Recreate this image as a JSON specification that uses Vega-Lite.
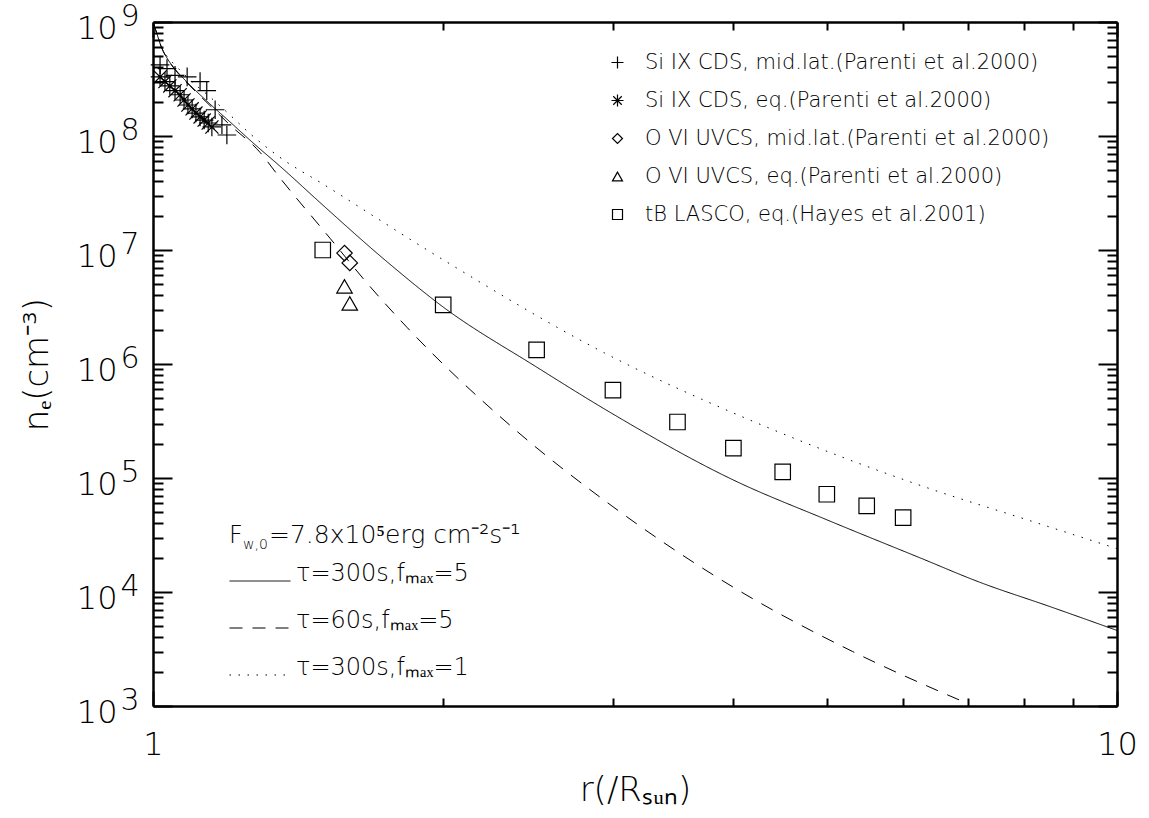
{
  "$schema": "https://vega.github.io/schema/vega-lite/v6.json",
  "width": 964,
  "height": 684,
  "autosize": {"type": "none"},
  "padding": {"left": 153, "top": 22, "right": 32, "bottom": 112},
  "background": "white",
  "config": {
    "view": {"stroke": null},
    "font": "DejaVu Sans",
    "axis": {"grid": false, "domainColor": "black", "domainWidth": 2.5, "tickColor": "black", "tickWidth": 2, "labelColor": "black", "titleColor": "black", "labelFont": "DejaVu Sans", "titleFont": "DejaVu Sans", "labelFontWeight": 200, "titleFontWeight": 200, "labelOverlap": false, "labelBound": false, "labelFlush": false},
    "legend": {"labelFont": "DejaVu Sans", "labelColor": "black", "labelFontWeight": 200, "labelLimit": 700, "padding": 0}
  },
  "datasets": {
    "lines": [
      {"r": 1.0, "n": 1.0e9, "model": "τ=300s,fₘₐₓ=5"},
      {"r": 1.0096, "n": 7.85e8, "model": "τ=300s,fₘₐₓ=5"},
      {"r": 1.0193, "n": 6.15e8, "model": "τ=300s,fₘₐₓ=5"},
      {"r": 1.034, "n": 4.83e8, "model": "τ=300s,fₘₐₓ=5"},
      {"r": 1.054, "n": 3.87e8, "model": "τ=300s,fₘₐₓ=5"},
      {"r": 1.0924, "n": 2.8e8, "model": "τ=300s,fₘₐₓ=5"},
      {"r": 1.1458, "n": 1.91e8, "model": "τ=300s,fₘₐₓ=5"},
      {"r": 1.2018, "n": 1.33e8, "model": "τ=300s,fₘₐₓ=5"},
      {"r": 1.2606, "n": 9.2e7, "model": "τ=300s,fₘₐₓ=5"},
      {"r": 1.3644, "n": 5.14e7, "model": "τ=300s,fₘₐₓ=5"},
      {"r": 1.5, "n": 2.48e7, "model": "τ=300s,fₘₐₓ=5"},
      {"r": 1.75, "n": 7.85e6, "model": "τ=300s,fₘₐₓ=5"},
      {"r": 2.0, "n": 3.16e6, "model": "τ=300s,fₘₐₓ=5"},
      {"r": 2.5, "n": 9.4e5, "model": "τ=300s,fₘₐₓ=5"},
      {"r": 3.0, "n": 3.64e5, "model": "τ=300s,fₘₐₓ=5"},
      {"r": 4.0, "n": 9.6e4, "model": "τ=300s,fₘₐₓ=5"},
      {"r": 5.0, "n": 4.3e4, "model": "τ=300s,fₘₐₓ=5"},
      {"r": 6.25, "n": 1.99e4, "model": "τ=300s,fₘₐₓ=5"},
      {"r": 7.2, "n": 1.22e4, "model": "τ=300s,fₘₐₓ=5"},
      {"r": 8.5, "n": 7.5e3, "model": "τ=300s,fₘₐₓ=5"},
      {"r": 10.0, "n": 4.6e3, "model": "τ=300s,fₘₐₓ=5"},
      {"r": 1.0, "n": 1.0e9, "model": "τ=60s,fₘₐₓ=5"},
      {"r": 1.0096, "n": 7.85e8, "model": "τ=60s,fₘₐₓ=5"},
      {"r": 1.0193, "n": 6.15e8, "model": "τ=60s,fₘₐₓ=5"},
      {"r": 1.034, "n": 4.8e8, "model": "τ=60s,fₘₐₓ=5"},
      {"r": 1.054, "n": 3.82e8, "model": "τ=60s,fₘₐₓ=5"},
      {"r": 1.0924, "n": 2.75e8, "model": "τ=60s,fₘₐₓ=5"},
      {"r": 1.1458, "n": 1.85e8, "model": "τ=60s,fₘₐₓ=5"},
      {"r": 1.2018, "n": 1.25e8, "model": "τ=60s,fₘₐₓ=5"},
      {"r": 1.291, "n": 7.2e7, "model": "τ=60s,fₘₐₓ=5"},
      {"r": 1.354, "n": 4.3e7, "model": "τ=60s,fₘₐₓ=5"},
      {"r": 1.526, "n": 1.27e7, "model": "τ=60s,fₘₐₓ=5"},
      {"r": 1.675, "n": 4.9e6, "model": "τ=60s,fₘₐₓ=5"},
      {"r": 1.834, "n": 2.1e6, "model": "τ=60s,fₘₐₓ=5"},
      {"r": 2.363, "n": 2.75e5, "model": "τ=60s,fₘₐₓ=5"},
      {"r": 3.0, "n": 5.6e4, "model": "τ=60s,fₘₐₓ=5"},
      {"r": 4.0, "n": 1.1e4, "model": "τ=60s,fₘₐₓ=5"},
      {"r": 5.32, "n": 3.0e3, "model": "τ=60s,fₘₐₓ=5"},
      {"r": 7.0, "n": 1.05e3, "model": "τ=60s,fₘₐₓ=5"},
      {"r": 1.0, "n": 1.0e9, "model": "τ=300s,fₘₐₓ=1"},
      {"r": 1.0096, "n": 7.85e8, "model": "τ=300s,fₘₐₓ=1"},
      {"r": 1.0193, "n": 6.3e8, "model": "τ=300s,fₘₐₓ=1"},
      {"r": 1.034, "n": 5.0e8, "model": "τ=300s,fₘₐₓ=1"},
      {"r": 1.054, "n": 4.2e8, "model": "τ=300s,fₘₐₓ=1"},
      {"r": 1.0924, "n": 3.1e8, "model": "τ=300s,fₘₐₓ=1"},
      {"r": 1.1458, "n": 2.2e8, "model": "τ=300s,fₘₐₓ=1"},
      {"r": 1.2018, "n": 1.53e8, "model": "τ=300s,fₘₐₓ=1"},
      {"r": 1.2606, "n": 1.05e8, "model": "τ=300s,fₘₐₓ=1"},
      {"r": 1.354, "n": 6.5e7, "model": "τ=300s,fₘₐₓ=1"},
      {"r": 1.5, "n": 3.8e7, "model": "τ=300s,fₘₐₓ=1"},
      {"r": 2.0, "n": 8.2e6, "model": "τ=300s,fₘₐₓ=1"},
      {"r": 2.94, "n": 1.25e6, "model": "τ=300s,fₘₐₓ=1"},
      {"r": 4.33, "n": 2.8e5, "model": "τ=300s,fₘₐₓ=1"},
      {"r": 6.44, "n": 7.9e4, "model": "τ=300s,fₘₐₓ=1"},
      {"r": 8.0, "n": 4.4e4, "model": "τ=300s,fₘₐₓ=1"},
      {"r": 10.0, "n": 2.4e4, "model": "τ=300s,fₘₐₓ=1"}
    ],
    "points": [
      {"r": 1.017, "n": 4.2e8, "series": "Si IX CDS, mid.lat.(Parenti et al.2000)"},
      {"r": 1.034, "n": 3.9e8, "series": "Si IX CDS, mid.lat.(Parenti et al.2000)"},
      {"r": 1.054, "n": 3.4e8, "series": "Si IX CDS, mid.lat.(Parenti et al.2000)"},
      {"r": 1.085, "n": 3.3e8, "series": "Si IX CDS, mid.lat.(Parenti et al.2000)"},
      {"r": 1.119, "n": 3.0e8, "series": "Si IX CDS, mid.lat.(Parenti et al.2000)"},
      {"r": 1.137, "n": 2.5e8, "series": "Si IX CDS, mid.lat.(Parenti et al.2000)"},
      {"r": 1.16, "n": 1.7e8, "series": "Si IX CDS, mid.lat.(Parenti et al.2000)"},
      {"r": 1.179, "n": 1.25e8, "series": "Si IX CDS, mid.lat.(Parenti et al.2000)"},
      {"r": 1.193, "n": 1.02e8, "series": "Si IX CDS, mid.lat.(Parenti et al.2000)"},
      {"r": 1.017, "n": 3.3e8, "series": "Si IX CDS, eq.(Parenti et al.2000)"},
      {"r": 1.029, "n": 3.0e8, "series": "Si IX CDS, eq.(Parenti et al.2000)"},
      {"r": 1.041, "n": 2.75e8, "series": "Si IX CDS, eq.(Parenti et al.2000)"},
      {"r": 1.054, "n": 2.5e8, "series": "Si IX CDS, eq.(Parenti et al.2000)"},
      {"r": 1.067, "n": 2.3e8, "series": "Si IX CDS, eq.(Parenti et al.2000)"},
      {"r": 1.077, "n": 2.07e8, "series": "Si IX CDS, eq.(Parenti et al.2000)"},
      {"r": 1.087, "n": 1.87e8, "series": "Si IX CDS, eq.(Parenti et al.2000)"},
      {"r": 1.098, "n": 1.73e8, "series": "Si IX CDS, eq.(Parenti et al.2000)"},
      {"r": 1.108, "n": 1.59e8, "series": "Si IX CDS, eq.(Parenti et al.2000)"},
      {"r": 1.119, "n": 1.47e8, "series": "Si IX CDS, eq.(Parenti et al.2000)"},
      {"r": 1.13, "n": 1.38e8, "series": "Si IX CDS, eq.(Parenti et al.2000)"},
      {"r": 1.141, "n": 1.3e8, "series": "Si IX CDS, eq.(Parenti et al.2000)"},
      {"r": 1.151, "n": 1.2e8, "series": "Si IX CDS, eq.(Parenti et al.2000)"},
      {"r": 1.58, "n": 9.4e6, "series": "O VI UVCS, mid.lat.(Parenti et al.2000)"},
      {"r": 1.60, "n": 7.7e6, "series": "O VI UVCS, mid.lat.(Parenti et al.2000)"},
      {"r": 1.58, "n": 4.8e6, "series": "O VI UVCS, eq.(Parenti et al.2000)"},
      {"r": 1.60, "n": 3.4e6, "series": "O VI UVCS, eq.(Parenti et al.2000)"},
      {"r": 1.5, "n": 1.0e7, "series": "tB LASCO, eq.(Hayes et al.2001)"},
      {"r": 2.0, "n": 3.3e6, "series": "tB LASCO, eq.(Hayes et al.2001)"},
      {"r": 2.5, "n": 1.33e6, "series": "tB LASCO, eq.(Hayes et al.2001)"},
      {"r": 3.0, "n": 5.9e5, "series": "tB LASCO, eq.(Hayes et al.2001)"},
      {"r": 3.5, "n": 3.1e5, "series": "tB LASCO, eq.(Hayes et al.2001)"},
      {"r": 4.0, "n": 1.83e5, "series": "tB LASCO, eq.(Hayes et al.2001)"},
      {"r": 4.5, "n": 1.13e5, "series": "tB LASCO, eq.(Hayes et al.2001)"},
      {"r": 5.0, "n": 7.2e4, "series": "tB LASCO, eq.(Hayes et al.2001)"},
      {"r": 5.5, "n": 5.7e4, "series": "tB LASCO, eq.(Hayes et al.2001)"},
      {"r": 6.0, "n": 4.5e4, "series": "tB LASCO, eq.(Hayes et al.2001)"}
    ]
  },
  "layer": [
    {
      "data": {"name": "lines"},
      "mark": {"type": "line", "color": "black", "strokeWidth": 1, "interpolate": "monotone", "clip": true},
      "encoding": {
        "x": {
          "field": "r", "type": "quantitative",
          "scale": {"type": "log", "domain": [1, 10], "nice": false},
          "axis": {
            "orient": "bottom",
            "values": [1, 2, 3, 4, 5, 6, 7, 8, 9, 10],
            "labelExpr": "datum.value == 1 ? '1' : (datum.value == 10 ? '10' : '')",
            "tickSize": {"condition": {"test": "datum.value == 1 || datum.value == 10", "value": -15}, "value": -8},
            "labelFontSize": 32, "labelPadding": 38,
            "title": "r(/Rₛᵤₙ)", "titleFontSize": 34, "titlePadding": 6
          }
        },
        "y": {
          "field": "n", "type": "quantitative",
          "scale": {"type": "log", "domain": [1000, 1000000000], "nice": false},
          "axis": {
            "orient": "left",
            "values": [1000,2000,3000,4000,5000,6000,7000,8000,9000,10000,20000,30000,40000,50000,60000,70000,80000,90000,100000,200000,300000,400000,500000,600000,700000,800000,900000,1000000,2000000,3000000,4000000,5000000,6000000,7000000,8000000,9000000,10000000,20000000,30000000,40000000,50000000,60000000,70000000,80000000,90000000,100000000,200000000,300000000,400000000,500000000,600000000,700000000,800000000,900000000,1000000000],
            "labelExpr": "abs(log(datum.value)/LN10 - round(log(datum.value)/LN10)) < 0.001 ? '10' : ''",
            "tickSize": {"condition": {"test": "abs(log(datum.value)/LN10 - round(log(datum.value)/LN10)) < 0.001", "value": -19}, "value": -10},
            "labelFontSize": 32, "labelPadding": 55, "labelAlign": "right", "labelBaseline": "middle", "labelOffset": 6,
            "title": "nₑ(cm⁻³)", "titleFontSize": 34, "titlePadding": 22
          }
        },
        "strokeDash": {
          "field": "model", "type": "nominal",
          "scale": {"domain": ["τ=300s,fₘₐₓ=5", "τ=60s,fₘₐₓ=5", "τ=300s,fₘₐₓ=1"], "range": [[1, 0], [13, 10], [1.5, 7.5]]},
          "legend": {
            "orient": "none", "legendX": 76, "legendY": 528, "title": null,
            "symbolType": "stroke", "symbolSize": 3721, "symbolStrokeWidth": 1, "symbolStrokeColor": "black",
            "labelFontSize": 24, "labelOffset": 5, "rowPadding": 11, "labelBaseline": "alphabetic"
          }
        }
      }
    },
    {
      "data": {"name": "points"},
      "mark": {"type": "point", "filled": false, "color": "black", "strokeWidth": 1.2, "opacity": 1, "size": 240},
      "encoding": {
        "x": {
          "field": "r", "type": "quantitative",
          "scale": {"type": "log", "domain": [1, 10], "nice": false},
          "axis": {
            "orient": "top", "values": [1, 2, 3, 4, 5, 6, 7, 8, 9, 10], "labels": false, "title": null,
            "tickSize": {"condition": {"test": "datum.value == 1 || datum.value == 10", "value": -15}, "value": -8}
          }
        },
        "y": {
          "field": "n", "type": "quantitative",
          "scale": {"type": "log", "domain": [1000, 1000000000], "nice": false},
          "axis": {
            "orient": "left", "values": [1000, 10000, 100000, 1000000, 10000000, 100000000, 1000000000],
            "ticks": false, "domain": false, "title": null,
            "labelExpr": "'' + round(log(datum.value)/LN10)",
            "labelAlign": "left", "labelBaseline": "middle", "labelPadding": 33, "labelOffset": -6, "labelFontSize": 30
          }
        },
        "shape": {
          "field": "series", "type": "nominal",
          "scale": {
            "domain": ["Si IX CDS, mid.lat.(Parenti et al.2000)", "Si IX CDS, eq.(Parenti et al.2000)", "O VI UVCS, mid.lat.(Parenti et al.2000)", "O VI UVCS, eq.(Parenti et al.2000)", "tB LASCO, eq.(Hayes et al.2001)"],
            "range": ["M-1.2,0L1.2,0M0,-1.2L0,1.2", "M-1.2,0L1.2,0M0,-1.2L0,1.2M-0.85,-0.85L0.85,0.85M-0.85,0.85L0.85,-0.85", "diamond", "triangle-up", "square"]
          },
          "legend": {
            "orient": "none", "legendX": 454, "legendY": 30, "title": null,
            "labelFontSize": 21, "labelOffset": 17, "rowPadding": 16,
            "symbolStrokeWidth": 1.2, "symbolFillColor": "transparent", "symbolStrokeColor": "black"
          }
        }
      }
    },
    {
      "data": {"values": [{}]},
      "encoding": {
        "x": {"datum": 1.199, "type": "quantitative", "scale": {"type": "log", "domain": [1, 10], "nice": false}, "axis": null},
        "y": {
          "datum": 26900, "type": "quantitative",
          "scale": {"type": "log", "domain": [1000, 1000000000], "nice": false},
          "axis": {
            "orient": "right", "labels": false, "title": null,
            "values": [1000,2000,3000,4000,5000,6000,7000,8000,9000,10000,20000,30000,40000,50000,60000,70000,80000,90000,100000,200000,300000,400000,500000,600000,700000,800000,900000,1000000,2000000,3000000,4000000,5000000,6000000,7000000,8000000,9000000,10000000,20000000,30000000,40000000,50000000,60000000,70000000,80000000,90000000,100000000,200000000,300000000,400000000,500000000,600000000,700000000,800000000,900000000,1000000000],
            "tickSize": {"condition": {"test": "abs(log(datum.value)/LN10 - round(log(datum.value)/LN10)) < 0.001", "value": -19}, "value": -10}
          }
        }
      },
      "layer": [
        {"mark": {"type": "text", "text": "F", "fontSize": 24, "fontWeight": 200, "font": "DejaVu Sans", "align": "left", "baseline": "alphabetic", "color": "black"}},
        {"mark": {"type": "text", "text": "w,0", "fontSize": 14, "fontWeight": 200, "font": "DejaVu Sans", "align": "left", "baseline": "alphabetic", "dx": 14, "dy": 6, "color": "black"}},
        {"mark": {"type": "text", "text": "=7.8x10⁵erg cm⁻²s⁻¹", "fontSize": 25, "fontWeight": 200, "font": "DejaVu Sans", "align": "left", "baseline": "alphabetic", "dx": 40, "color": "black"}}
      ]
    }
  ],
  "resolve": {"scale": {"x": "independent", "y": "independent"}}
}
